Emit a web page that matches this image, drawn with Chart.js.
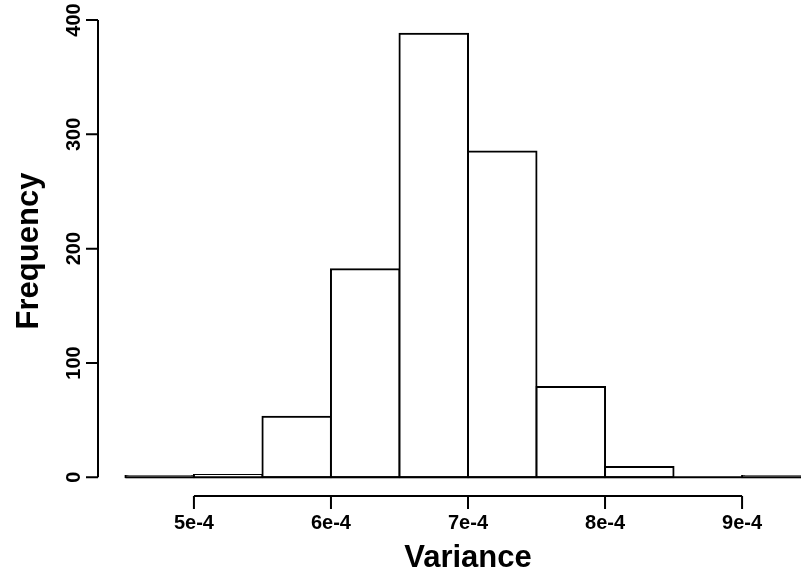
<!DOCTYPE html>
<html>
<head>
<meta charset="utf-8">
<script src="https://cdn.jsdelivr.net/npm/chart.js@4/dist/chart.umd.min.js"></script>
<style>
  html, body { margin: 0; padding: 0; background: #ffffff; overflow: hidden; }
  #wrap { width: 801px; height: 578px; }
</style>
</head>
<body>
<div id="wrap"><canvas id="c" width="801" height="578"></canvas></div>
<script>
// Histogram bin edges (Variance) and counts (Frequency)
const binEdges = [4.5e-4, 5.0e-4, 5.5e-4, 6.0e-4, 6.5e-4, 7.0e-4, 7.5e-4, 8.0e-4, 8.5e-4, 9.0e-4, 9.5e-4];
const counts   = [1, 2, 53, 182, 388, 285, 79, 9, 0, 1];
// Axis tick values and labels
const xTickValues = [5e-4, 6e-4, 7e-4, 8e-4, 9e-4];
const xTickLabels = ["5e-4", "6e-4", "7e-4", "8e-4", "9e-4"];
const yTickValues = [0, 100, 200, 300, 400];
const yTickLabels = ["0", "100", "200", "300", "400"];
const xTitle = "Variance";
const yTitle = "Frequency";

const barData = counts.map((c, i) => ({ x: (binEdges[i] + binEdges[i + 1]) / 2, y: c }));

const FONT = '"Liberation Sans", Arial, Helvetica, sans-serif';

const rAxesPlugin = {
  id: 'rAxes',
  afterDatasetsDraw(chart) {
    const ctx = chart.ctx;
    const xs = chart.scales.x, ys = chart.scales.y;
    const area = chart.chartArea;
    ctx.save();
    ctx.strokeStyle = '#000';
    ctx.fillStyle = '#000';
    ctx.lineWidth = 2;
    ctx.lineCap = 'butt';

    // baseline under all bins
    const y0 = ys.getPixelForValue(0);
    ctx.beginPath();
    ctx.moveTo(xs.getPixelForValue(binEdges[0]), y0);
    ctx.lineTo(xs.getPixelForValue(binEdges[binEdges.length - 1]), y0);
    ctx.stroke();

    // x axis (R style, below plot region)
    const xAxisY = area.bottom + 1;
    const xa = xs.getPixelForValue(xTickValues[0]);
    const xb = xs.getPixelForValue(xTickValues[xTickValues.length - 1]);
    ctx.beginPath();
    ctx.moveTo(xa, xAxisY);
    ctx.lineTo(xb, xAxisY);
    xTickValues.forEach(v => {
      const px = xs.getPixelForValue(v);
      ctx.moveTo(px, xAxisY);
      ctx.lineTo(px, xAxisY + 13);
    });
    ctx.stroke();
    ctx.font = 'bold 20px ' + FONT;
    ctx.textAlign = 'center';
    ctx.textBaseline = 'alphabetic';
    xTickValues.forEach((v, i) => {
      ctx.fillText(xTickLabels[i], xs.getPixelForValue(v), 529);
    });

    // y axis
    const yAxisX = area.left;
    ctx.beginPath();
    ctx.moveTo(yAxisX, ys.getPixelForValue(yTickValues[0]));
    ctx.lineTo(yAxisX, ys.getPixelForValue(yTickValues[yTickValues.length - 1]));
    yTickValues.forEach(v => {
      const py = ys.getPixelForValue(v);
      ctx.moveTo(yAxisX, py);
      ctx.lineTo(yAxisX - 12, py);
    });
    ctx.stroke();
    yTickValues.forEach((v, i) => {
      const py = ys.getPixelForValue(v);
      ctx.save();
      ctx.translate(80, py);
      ctx.rotate(-Math.PI / 2);
      ctx.textAlign = 'center';
      ctx.textBaseline = 'alphabetic';
      ctx.fillText(yTickLabels[i], 0, 0);
      ctx.restore();
    });

    // titles
    ctx.font = 'bold 31px ' + FONT;
    ctx.textAlign = 'center';
    ctx.fillText(xTitle, 468, 567);
    ctx.save();
    ctx.translate(38, 251);
    ctx.rotate(-Math.PI / 2);
    ctx.fillText(yTitle, 0, 0);
    ctx.restore();

    ctx.restore();
  }
};

new Chart(document.getElementById('c'), {
  type: 'bar',
  data: {
    datasets: [{
      data: barData,
      backgroundColor: '#ffffff',
      borderColor: '#000000',
      borderWidth: 2,
      borderSkipped: false,
      inflateAmount: 1,
      barPercentage: 1.0,
      categoryPercentage: 1.0
    }]
  },
  options: {
    responsive: false,
    animation: false,
    layout: { padding: { left: 98, top: 16, right: 0, bottom: 83 } },
    plugins: { legend: { display: false }, tooltip: { enabled: false } },
    scales: {
      x: { type: 'linear', min: 4.3e-4, max: 9.43e-4, display: false, offset: false },
      y: { type: 'linear', min: -15.52, max: 403.52, display: false }
    }
  },
  plugins: [rAxesPlugin]
});
</script>
</body>
</html>
